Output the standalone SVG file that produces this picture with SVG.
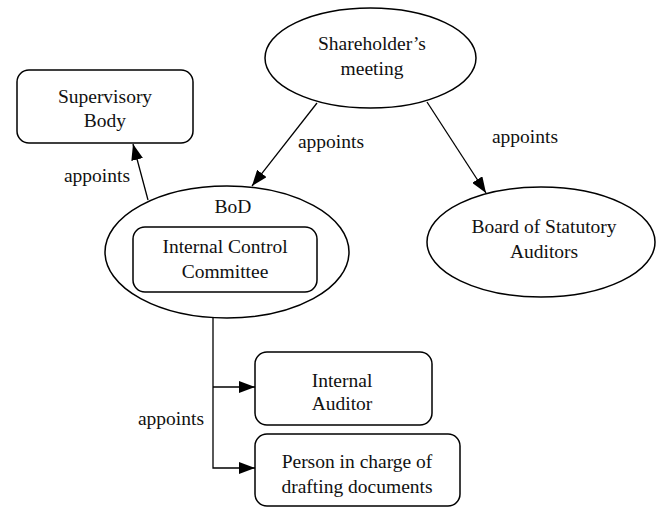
<svg xmlns="http://www.w3.org/2000/svg" width="659" height="508" viewBox="0 0 659 508" font-family="'Liberation Serif', 'Times New Roman', Tinos, 'DejaVu Serif', serif">
<style>
.s{fill:#fff;stroke:#000;stroke-width:1.5}
.c{fill:none;stroke:#000;stroke-width:1.3}
text{font-family:'Liberation Serif','Times New Roman',Tinos,'DejaVu Serif',serif;font-size:19.5px;fill:#111;text-anchor:middle}
</style>
<defs>
<marker id="a" viewBox="0 0 16 12" refX="16" refY="6" markerWidth="16" markerHeight="12" markerUnits="userSpaceOnUse" orient="auto">
<path d="M0,0 L16,6 L0,12 Z" fill="#000"/>
</marker>
</defs>
<g id="connectors">
<line class="c" x1="317" y1="103" x2="252" y2="186" marker-end="url(#a)"/>
<line class="c" x1="427" y1="102" x2="486" y2="193" marker-end="url(#a)"/>
<line class="c" x1="148" y1="200" x2="133" y2="144" marker-end="url(#a)"/>
<polyline class="c" points="213,318 213,468 255,468" marker-end="url(#a)"/>
<polyline class="c" points="213,387 255,387" marker-end="url(#a)"/>
<text x="331" y="148">appoints</text>
<text x="525" y="143">appoints</text>
<text x="97" y="182">appoints</text>
<text x="171" y="425">appoints</text>
</g>
<g id="shareholders">
<ellipse class="s" cx="370.5" cy="58" rx="105.5" ry="50"/>
<text x="372" y="50">Shareholder’s</text>
<text x="372" y="75">meeting</text>
</g>
<g id="supervisory">
<rect class="s" x="17" y="70" width="176" height="73" rx="12"/>
<text x="105" y="103">Supervisory</text>
<text x="105" y="127">Body</text>
</g>
<g id="bod">
<ellipse class="s" cx="227" cy="252" rx="122" ry="66"/>
<text x="233" y="213">BoD</text>
</g>
<g id="icc">
<rect class="s" x="133" y="227" width="184" height="65" rx="12"/>
<text x="225" y="253">Internal Control</text>
<text x="225" y="278">Committee</text>
</g>
<g id="statutory">
<ellipse class="s" cx="541" cy="242" rx="114" ry="55"/>
<text x="544" y="233">Board of Statutory</text>
<text x="544" y="258">Auditors</text>
</g>
<g id="auditor">
<rect class="s" x="255" y="352" width="177" height="73" rx="12"/>
<text x="342" y="387">Internal</text>
<text x="342" y="410">Auditor</text>
</g>
<g id="person">
<rect class="s" x="255" y="434" width="205" height="72" rx="12"/>
<text x="357" y="468">Person in charge of</text>
<text x="357" y="493">drafting documents</text>
</g>
</svg>
